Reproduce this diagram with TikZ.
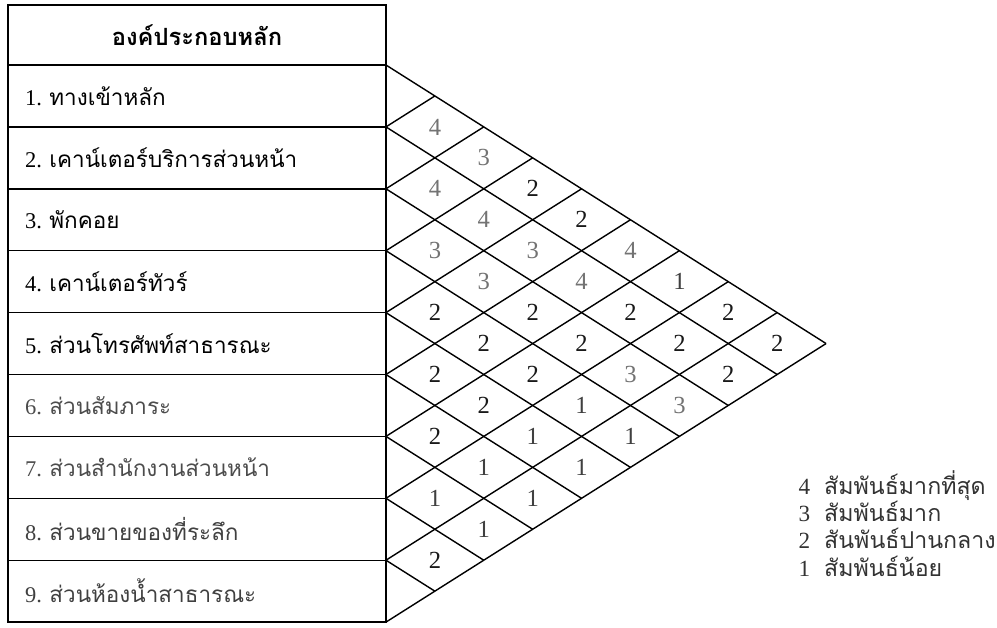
\documentclass[tikz,border=0pt]{standalone}
\usepackage{fontspec}
\setmainfont{Liberation Serif}
\newfontfamily\thaifont[Script=Thai]{Loma}

\begin{document}
\begin{tikzpicture}[x=0.02cm,y=-0.02cm,line width=0.8pt,
  rowbox/.style={draw,outer sep=0pt,minimum width=7.56cm,minimum height=1.238cm,
    inner xsep=0.34cm,text width=6.88cm,align=left,font=\fontsize{12.8}{15}\selectfont},
  num/.style={font=\fontsize{14}{16}\selectfont},
  n4/.style={text=black!55},n3/.style={text=black!55},
  n2/.style={text=black!90},n1/.style={text=black!75},
  key/.style={anchor=west,text=black!80,font=\fontsize{13.2}{15}\selectfont}]
  \useasboundingbox (0,0) rectangle (997,627);

  % left column
  \node[rowbox,align=center,minimum height=1.2cm,font=\fontsize{13.5}{15}\selectfont\bfseries]
    (hd) at (197,35) {\thaifont องค์ประกอบหลัก};
  \foreach \i/\c/\t in {1/black/ทางเข้าหลัก,2/black/เคาน์เตอร์บริการส่วนหน้า,
      3/black/พักคอย,4/black/เคาน์เตอร์ทัวร์,5/black/ส่วนโทรศัพท์สาธารณะ,
      6/black!70/ส่วนสัมภาระ,7/black!70/ส่วนสำนักงานส่วนหน้า,
      8/black!75/ส่วนขายของที่ระลึก,9/black!75/ส่วนห้องน้ำสาธารณะ}
    \node[rowbox,text=\c] (r\i) at (197,{65+(\i-0.5)*61.9}) {\i.\ \thaifont\t};

  % diamond grid
  \draw (hd.south east) -- ++(440.1,278.55);
  \foreach \k in {1,...,8}
    \draw (r\k.south east) -- ++({(9-\k)*48.9},{(9-\k)*30.95});
  \foreach \k in {1,...,9}
    \draw (r\k.south east) -- ++({\k*48.9},{-\k*30.95});

  % relation values
  \foreach \i/\j/\v in {1/2/4,1/3/3,1/4/2,1/5/2,1/6/4,1/7/1,1/8/2,1/9/2,
      2/3/4,2/4/4,2/5/3,2/6/4,2/7/2,2/8/2,2/9/2,
      3/4/3,3/5/3,3/6/2,3/7/2,3/8/3,3/9/3,
      4/5/2,4/6/2,4/7/2,4/8/1,4/9/1,
      5/6/2,5/7/2,5/8/1,5/9/1,
      6/7/2,6/8/1,6/9/1,
      7/8/1,7/9/1,8/9/2}
    \node[num,n\v] (c\i\j) at ({386+(\j-\i)*48.9},{65+((\i+\j)/2-0.5)*61.9}) {\v};

  % key
  \node[key] (k4) at (792,486) {4\hspace{8pt}\thaifont สัมพันธ์มากที่สุด};
  \node[key] (k3) at (792,511) {3\hspace{8pt}\thaifont สัมพันธ์มาก};
  \node[key] (k2) at (792,538) {2\hspace{8pt}\thaifont สันพันธ์ปานกลาง};
  \node[key] (k1) at (792,566) {1\hspace{8pt}\thaifont สัมพันธ์น้อย};
\end{tikzpicture}
\end{document}
